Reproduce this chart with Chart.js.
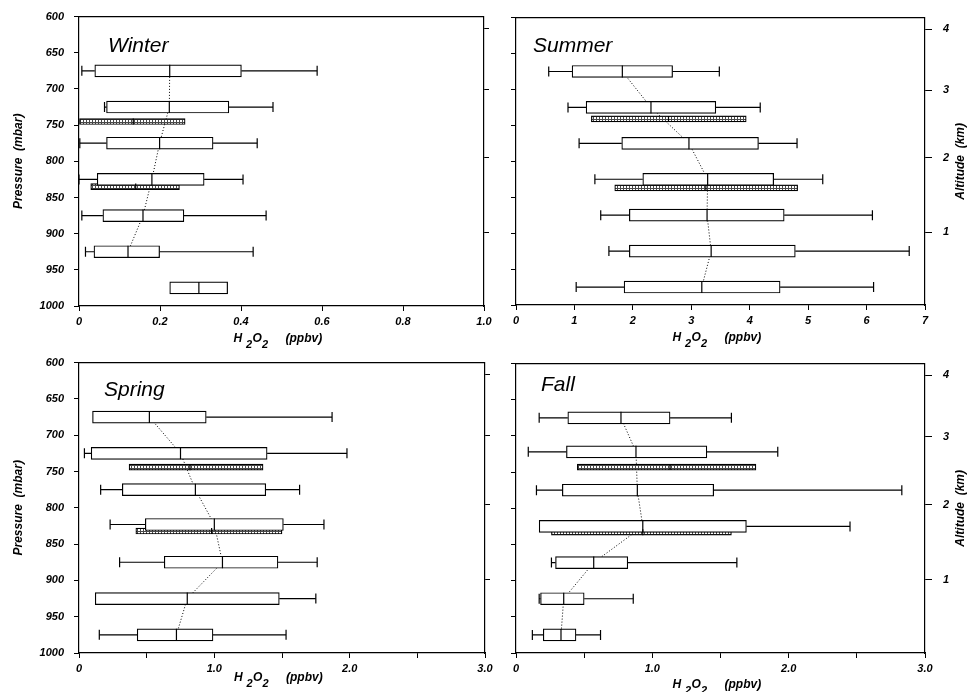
<!DOCTYPE html>
<html>
<head>
<meta charset="utf-8">
<script src="https://cdn.jsdelivr.net/npm/chart.js@4.4.0/dist/chart.umd.min.js"></script>
<style>
  body { margin: 0; background: #fff; width: 968px; height: 692px; position: relative; overflow: hidden; }
  canvas { position: absolute; }
</style>
</head>
<body>
<canvas id="winter" width="500" height="360" style="left:0;top:0"></canvas>
<canvas id="summer" width="476" height="360" style="left:492px;top:0"></canvas>
<canvas id="spring" width="500" height="346" style="left:0;top:346px"></canvas>
<canvas id="fall" width="476" height="346" style="left:492px;top:346px"></canvas>
<script>
// altitude axis (standard atmosphere), labels on the right-hand panels
const altitudeLabels = ['1', '2', '3', '4'];
const altitudePressure = [898.8, 795.0, 701.1, 616.4];

// boxes: [min, q1, median, q3, max] in ppbv, null = no whisker
const winterLevels = [675, 725, 775, 825, 875, 925, 975];
const winterBoxes = [
  [0.007, 0.039, 0.224, 0.401, 0.588],
  [0.063, 0.068, 0.223, 0.370, 0.479],
  [0.002, 0.068, 0.199, 0.331, 0.440],
  [0.000, 0.045, 0.180, 0.309, 0.405],
  [0.007, 0.059, 0.158, 0.259, 0.462],
  [0.016, 0.037, 0.121, 0.199, 0.430],
  [null, 0.224, 0.296, 0.367, null],
];
const winterShadedLevels = [745, 835];
const winterShaded = [[0.0, 0.134, 0.262], [0.029, 0.140, 0.248]];

const summerLevels = [675, 725, 775, 825, 875, 925, 975];
const summerBoxes = [
  [0.56, 0.96, 1.82, 2.68, 3.48],
  [0.89, 1.20, 2.31, 3.42, 4.18],
  [1.08, 1.81, 2.96, 4.15, 4.81],
  [1.35, 2.17, 3.28, 4.41, 5.25],
  [1.45, 1.94, 3.27, 4.59, 6.10],
  [1.59, 1.94, 3.34, 4.78, 6.73],
  [1.03, 1.85, 3.18, 4.52, 6.12],
];
const summerShadedLevels = [741, 837];
const summerShaded = [[1.29, 2.61, 3.94], [1.69, 3.25, 4.82]];

const springLevels = [675, 725, 775, 823, 875, 925, 975];
const springBoxes = [
  [null, 0.10, 0.52, 0.94, 1.87],
  [0.04, 0.09, 0.75, 1.39, 1.98],
  [0.16, 0.32, 0.86, 1.38, 1.63],
  [0.23, 0.49, 1.00, 1.51, 1.81],
  [0.30, 0.63, 1.06, 1.47, 1.76],
  [null, 0.12, 0.80, 1.48, 1.75],
  [0.15, 0.43, 0.72, 0.99, 1.53],
];
const springShadedLevels = [744, 832];
const springShaded = [[0.37, 0.82, 1.36], [0.42, 0.98, 1.50]];

const fallLevels = [675, 722, 775, 825, 875, 925, 975];
const fallBoxes = [
  [0.17, 0.38, 0.77, 1.13, 1.58],
  [0.09, 0.37, 0.88, 1.40, 1.92],
  [0.15, 0.34, 0.89, 1.45, 2.83],
  [null, 0.17, 0.93, 1.69, 2.45],
  [0.26, 0.29, 0.57, 0.82, 1.62],
  [0.17, 0.18, 0.35, 0.50, 0.86],
  [0.12, 0.20, 0.33, 0.44, 0.62],
];
const fallShadedLevels = [743, 833];
const fallShaded = [[0.45, 1.13, 1.76], [0.26, 0.93, 1.58]];

const FONT = '"Liberation Sans", Arial, sans-serif';
Chart.defaults.color = '#000';
Chart.defaults.font.family = FONT;

function dotPattern() {
  const c = document.createElement('canvas');
  c.width = 3; c.height = 3;
  const g = c.getContext('2d');
  g.fillStyle = '#4a4a4a';
  g.fillRect(0, 0, 3, 3);
  g.fillStyle = '#fff';
  g.fillRect(0, 0, 2, 2);
  return g.createPattern(c, 'repeat');
}

function fmtHalf(v) {
  if (Math.abs(v - Math.round(v)) > 1e-6) return '';
  return v === 0 ? '0' : v.toFixed(1);
}

function buildPanel(id, p) {
  const whiskers = [];
  const caps = [];
  p.levels.forEach((y, i) => {
    const [lo, q1, , q3, hi] = p.boxes[i];
    if (lo !== null) {
      whiskers.push({ x: lo, y }, { x: q1, y }, { x: null, y: null });
      caps.push({ x: lo, y });
    }
    if (hi !== null) {
      whiskers.push({ x: q3, y }, { x: hi, y }, { x: null, y: null });
      caps.push({ x: hi, y });
    }
  });
  const medians = p.levels.map((y, i) => ({ x: p.boxes[i][2], y }));
  const trend = medians.slice(0, p.trendCount);
  const shadedMedians = p.shadedLevels.map((y, i) => ({ x: p.shaded[i][1], y }));

  const tickFont = { family: FONT, size: 11, style: 'italic', weight: 'bold' };
  const axisLine = { display: true, color: '#000', width: 1.2 };

  const decor = {
    id: 'decor',
    afterDraw(chart) {
      const { ctx, chartArea: a } = chart;
      ctx.save();
      // top frame line
      ctx.strokeStyle = '#000';
      ctx.lineWidth = 1.2;
      ctx.beginPath();
      ctx.moveTo(a.left, a.top);
      ctx.lineTo(a.right, a.top);
      ctx.stroke();
      // season name
      ctx.fillStyle = '#000';
      ctx.textAlign = 'left';
      ctx.textBaseline = 'alphabetic';
      ctx.font = 'italic 21px ' + FONT;
      ctx.fillText(p.name, a.left + p.nameDx, a.top + p.nameDy);
      // x title with subscripts
      const cx = (a.left + a.right) / 2 - 48;
      const by = a.bottom + p.xTitleDy;
      ctx.font = 'italic bold 12px ' + FONT;
      ctx.fillText('H', cx, by);
      ctx.fillText('O', cx + 19, by);
      ctx.fillText('(ppbv)', cx + 52, by);
      ctx.font = 'italic bold 11px ' + FONT;
      ctx.fillText('2', cx + 12.5, by + 6);
      ctx.fillText('2', cx + 28.5, by + 6);
      // altitude title
      if (p.right) {
        ctx.font = 'italic bold 12px ' + FONT;
        ctx.textAlign = 'center';
        ctx.textBaseline = 'middle';
        ctx.translate(chart.width - 7, (a.top + a.bottom) / 2);
        ctx.rotate(-Math.PI / 2);
        ctx.fillText('Altitude  (km)', 0, 0);
      }
      ctx.restore();
    },
  };

  new Chart(document.getElementById(id), {
    type: 'bar',
    data: {
      datasets: [
        {
          type: 'line', data: medians, showLine: false, xAxisID: 'x', yAxisID: 'y',
          pointStyle: 'line', pointRotation: 90, pointRadius: 6,
          pointBorderWidth: 1.2, pointBorderColor: '#000',
        },
        {
          type: 'line', data: shadedMedians, showLine: false, xAxisID: 'x', yAxisID: 'y',
          pointStyle: 'line', pointRotation: 90, pointRadius: 3,
          pointBorderWidth: 1.2, pointBorderColor: '#000',
        },
        {
          type: 'line', data: caps, showLine: false, xAxisID: 'x', yAxisID: 'y',
          pointStyle: 'line', pointRotation: 90, pointRadius: 5,
          pointBorderWidth: 1.2, pointBorderColor: '#000',
        },
        {
          data: p.levels.map((y, i) => ({ y, x: [p.boxes[i][1], p.boxes[i][3]] })),
          xAxisID: 'x', yAxisID: 'y',
          backgroundColor: '#fff', borderColor: '#000', borderWidth: 1.2,
          borderSkipped: false, grouped: false, barThickness: 12, maxBarThickness: 12,
        },
        {
          data: p.shadedLevels.map((y, i) => ({ y, x: [p.shaded[i][0], p.shaded[i][2]] })),
          xAxisID: 'x', yAxisID: 'ys',
          backgroundColor: dotPattern(), borderColor: '#000', borderWidth: 1.2,
          borderSkipped: false, grouped: false, barThickness: 6, maxBarThickness: 6,
        },
        {
          type: 'line', data: whiskers, xAxisID: 'x', yAxisID: 'y',
          borderColor: '#000', borderWidth: 1.2, pointRadius: 0, spanGaps: false,
        },
        {
          type: 'line', data: trend, xAxisID: 'x', yAxisID: 'y',
          borderColor: '#000', borderWidth: 1, borderDash: [1, 2], pointRadius: 0,
        },
      ],
    },
    options: {
      responsive: false,
      animation: false,
      events: [],
      indexAxis: 'y',
      layout: { padding: { top: p.padTop, left: 0, right: 0, bottom: 0 } },
      plugins: { legend: { display: false }, tooltip: { enabled: false } },
      scales: {
        x: {
          type: 'linear', position: 'bottom', min: 0, max: p.xMax,
          afterFit: (s) => { s.height = p.xHeight; },
          grid: { drawOnChartArea: false, tickLength: 5, color: '#000', lineWidth: 1 },
          border: axisLine,
          ticks: { stepSize: p.xStep, autoSkip: false, maxRotation: 0, padding: 4, font: tickFont, callback: p.xFormat },
        },
        y: {
          type: 'linear', position: 'left', reverse: true, min: 600, max: 1000, offset: false,
          afterFit: (s) => { s.width = p.yWidth; },
          grid: { drawOnChartArea: false, offset: false, tickLength: 5, color: '#000', lineWidth: 1 },
          border: axisLine,
          ticks: { stepSize: 50, display: !p.right, padding: 10, font: tickFont, callback: (v) => String(v) },
          title: {
            display: !p.right, text: 'Pressure  (mbar)', padding: { top: 11, bottom: 0 },
            font: { family: FONT, size: 12, style: 'italic', weight: 'bold' },
          },
        },
        ys: {
          type: 'linear', display: false, reverse: true, min: 600, max: 1000, offset: false,
          grid: { offset: false },
        },
        y2: {
          type: 'linear', position: 'right', reverse: true, min: 600, max: 1000, offset: false,
          afterBuildTicks: (s) => { s.ticks = altitudePressure.map((v) => ({ value: v })); },
          afterFit: (s) => { s.width = p.rightWidth; },
          grid: { drawOnChartArea: false, offset: false, tickLength: p.right ? 7 : 5, color: '#000', lineWidth: 1 },
          border: axisLine,
          ticks: { display: p.right, autoSkip: false, padding: 11, font: tickFont, callback: (v, i) => altitudeLabels[i] },
        },
      },
    },
    plugins: [decor],
  });
}

buildPanel('winter', {
  name: 'Winter', nameDx: 29, nameDy: 35, xTitleDy: 36,
  levels: winterLevels, boxes: winterBoxes, shadedLevels: winterShadedLevels, shaded: winterShaded,
  trendCount: 6, right: false, xMax: 1.0, xStep: 0.2,
  xFormat: (v) => (v === 0 ? '0' : v.toFixed(1)),
  padTop: 15, yWidth: 79, rightWidth: 16, xHeight: 54,
});
buildPanel('summer', {
  name: 'Summer', nameDx: 17, nameDy: 34, xTitleDy: 36,
  levels: summerLevels, boxes: summerBoxes, shadedLevels: summerShadedLevels, shaded: summerShaded,
  trendCount: 7, right: true, xMax: 7, xStep: 1,
  xFormat: (v) => String(v),
  padTop: 15, yWidth: 24, rightWidth: 43, xHeight: 55,
});
buildPanel('spring', {
  name: 'Spring', nameDx: 25, nameDy: 33, xTitleDy: 28,
  levels: springLevels, boxes: springBoxes, shadedLevels: springShadedLevels, shaded: springShaded,
  trendCount: 7, right: false, xMax: 3.0, xStep: 0.5,
  xFormat: fmtHalf,
  padTop: 14, yWidth: 79, rightWidth: 15, xHeight: 39,
});
buildPanel('fall', {
  name: 'Fall', nameDx: 25, nameDy: 27, xTitleDy: 35,
  levels: fallLevels, boxes: fallBoxes, shadedLevels: fallShadedLevels, shaded: fallShaded,
  trendCount: 7, right: true, xMax: 3.0, xStep: 0.5,
  xFormat: fmtHalf,
  padTop: 17, yWidth: 24, rightWidth: 43, xHeight: 39,
});
</script>
</body>
</html>
